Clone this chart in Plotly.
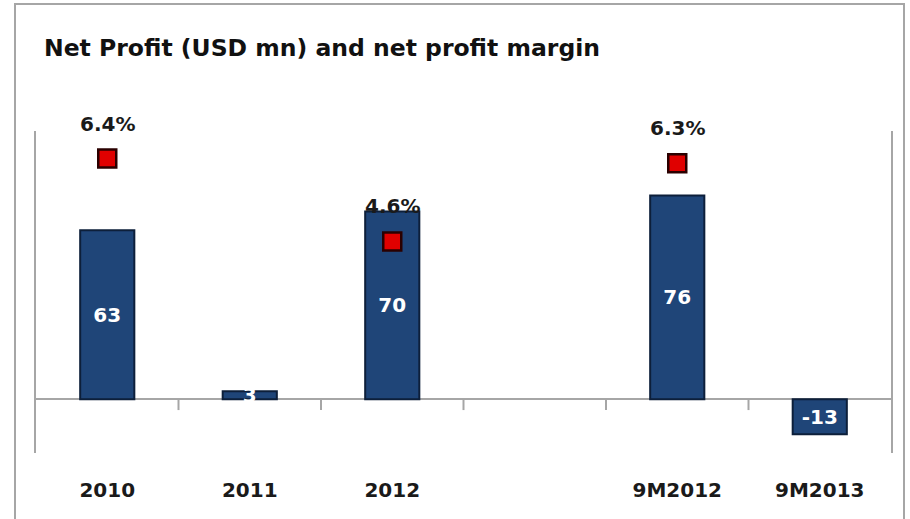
import plotly.graph_objects as go

# ---- data ----
categories = ["2010", "2011", "2012", "\u00a0", "9M2012", "9M2013"]
net_profit = [63, 3, 70, None, 76, -13]
net_margin = [6.4, None, 4.6, None, 6.3, None]
title_text = "Net Profit (USD mn) and net profit margin"

# ---- layout constants (window pixels) ----
W, H = 910, 519
PL, PR, PT, PB = 36, 891, 131, 453
FONT = "DejaVu Sans"
GRAY = "#A6A6A6"

fig = go.Figure()

fig.add_trace(go.Bar(
    x=categories, y=net_profit,
    marker=dict(color="#1F4578", line=dict(color="#0D1F3A", width=2)),
    text=[None if v is None else str(v) for v in net_profit],
    textposition="inside", insidetextanchor="middle", constraintext="none",
    textangle=0,
    textfont=dict(family=FONT, size=20, color="white", weight="bold"),
    cliponaxis=False, showlegend=False, hoverinfo="skip",
))

fig.add_trace(go.Scatter(
    x=categories, y=net_margin, yaxis="y2", mode="markers",
    marker=dict(symbol="square", size=18, color="#E00000",
                line=dict(color="#2A0000", width=2.5)),
    showlegend=False, hoverinfo="skip",
))

annotations = []
for i, v in enumerate(net_margin):
    if v is None:
        continue
    annotations.append(dict(
        x=i, y=v, xref="x", yref="y2", text=f"{v}%", showarrow=False,
        yshift=35, font=dict(family=FONT, size=20, color="#1A1A1A", weight="bold"),
    ))

# tick marks on the zero line at category boundaries (paper x)
n = len(categories)
shapes = []
for i in range(1, n):
    shapes.append(dict(type="line", xref="paper", yref="y",
                       x0=i / n, x1=i / n, y0=0, y1=-4.0,
                       line=dict(color=GRAY, width=2)))

# outer border
pw, ph = PR - PL, PB - PT
def px_x(px):
    return (px - PL) / pw
def px_y(py):
    return (PB - py) / ph
shapes.append(dict(type="rect", xref="paper", yref="paper",
                   x0=px_x(15), x1=px_x(904), y0=px_y(540), y1=px_y(4),
                   line=dict(color=GRAY, width=2), fillcolor="rgba(0,0,0,0)",
                   layer="below"))

fig.update_layout(
    width=W, height=H,
    margin=dict(l=PL, r=W - PR, t=PT, b=H - PB, pad=0),
    paper_bgcolor="white", plot_bgcolor="white",
    bargap=0.62,
    title=dict(text=title_text, x=44 / W, xanchor="left", xref="container",
               y=1 - 48 / H, yanchor="middle", yref="container",
               font=dict(family=FONT, size=23.5, color="#111111", weight="bold")),
    xaxis=dict(type="category", categoryorder="array", categoryarray=categories,
               range=[-0.5, n - 0.5],
               showline=False, showgrid=False, zeroline=False, ticks="",
               ticklabelstandoff=23,
               tickfont=dict(family=FONT, size=20, color="#1A1A1A", weight="bold")),
    yaxis=dict(range=[-20, 100], showgrid=False, showticklabels=False, ticks="",
               showline=True, linecolor=GRAY, linewidth=2,
               zeroline=True, zerolinecolor=GRAY, zerolinewidth=2),
    yaxis2=dict(range=[0, 7], overlaying="y", side="right", showgrid=False,
                showticklabels=False, ticks="", zeroline=False,
                showline=True, linecolor=GRAY, linewidth=2),
    annotations=annotations,
    shapes=shapes,
)

fig.write_html(
    "out.html",
    config={"displayModeBar": False},
    post_script="document.body.style.margin='0';document.body.style.overflow='hidden';",
)
